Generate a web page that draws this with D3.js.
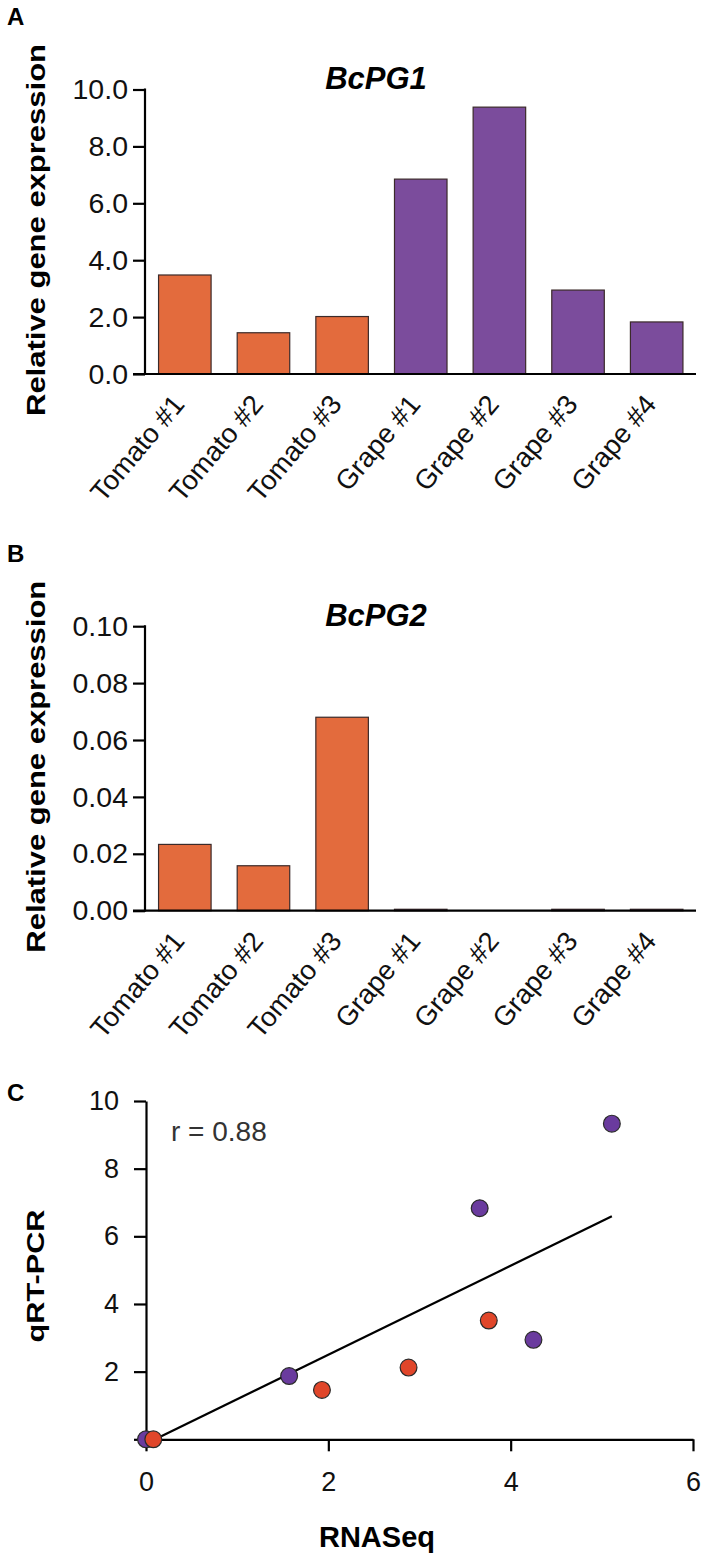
<!DOCTYPE html>
<html>
<head>
<meta charset="utf-8">
<script src="https://cdn.jsdelivr.net/npm/d3@7"></script>
<style>
  body { margin: 0; background: #fff; }
  svg { display: block; font-family: "Liberation Sans", Arial, Helvetica, sans-serif; }
</style>
</head>
<body>
<svg id="drawspace" width="708" height="1558"></svg>
<script>
let drawSpace = d3.select("#drawspace");

// data
let samples = ["Tomato #1", "Tomato #2", "Tomato #3", "Grape #1", "Grape #2", "Grape #3", "Grape #4"];
let host = ["tomato", "tomato", "tomato", "grape", "grape", "grape", "grape"];
let bcpg1 = [3.48, 1.45, 2.02, 6.85, 9.38, 2.95, 1.83];
let bcpg2 = [0.0233, 0.0158, 0.068, 0.0005, 0.0, 0.0005, 0.0005];
let ticksA = [0, 2, 4, 6, 8, 10];
let ticksB = [0, 0.02, 0.04, 0.06, 0.08, 0.10];

// panel C: RNASeq vs qRT-PCR
let rnaSeq = [0.0, 0.08, 1.57, 1.93, 2.88, 3.76, 3.66, 4.25, 5.11];
let qrtPcr = [0.0, 0.0, 1.87, 1.46, 2.12, 3.51, 6.83, 2.94, 9.33];
let pointHost = ["grape", "tomato", "grape", "tomato", "tomato", "tomato", "grape", "grape", "grape"];
let fitX = [0.1, 5.11];
let fitY = [0.0, 6.59];
let ticksCx = [0, 2, 4, 6];
let ticksCy = [0, 2, 4, 6, 8, 10];

let barColor = { tomato: "#e36b3d", grape: "#7b4c9c" };
let dotColor = { tomato: "#e0462a", grape: "#6a3b9e" };

function barPanel(top, title, values, yMax, ticks, fmt, letter) {
  let g = drawSpace.append("g").attr("transform", "translate(0," + top + ")");

  let x = d3.scaleBand().domain(samples).range([145.5, 696])
    .paddingInner(0.332).paddingOuter(0.166);
  let y = d3.scaleLinear().domain([0, yMax]).range([374, 89.5]);

  g.append("text").attr("x", 7).attr("y", 25)
    .attr("font-size", 24).attr("font-weight", "bold").text(letter);

  g.selectAll("rect")
    .data(values)
    .enter()
    .append("rect")
    .attr("x", (d, i) => x(samples[i]))
    .attr("width", x.bandwidth())
    .attr("y", d => y(d))
    .attr("height", d => y(0) - y(d))
    .attr("fill", (d, i) => barColor[host[i]])
    .attr("stroke", "#3b2a2a")
    .attr("stroke-width", d => d > 0 ? 1.2 : 0);

  let yAxis = g.append("g").attr("transform", "translate(145,0)")
    .call(d3.axisLeft(y).tickValues(ticks).tickFormat(d3.format(fmt)).tickSize(12).tickPadding(5));
  yAxis.select(".domain").remove();
  yAxis.selectAll("line").attr("stroke", "#000").attr("stroke-width", 2.2);
  yAxis.selectAll("text").attr("font-size", 28.5).attr("fill", "#111")
    .attr("font-family", "Liberation Sans, Arial, sans-serif");

  // axis lines
  g.append("line").attr("x1", 145).attr("x2", 145).attr("y1", y(yMax) - 1).attr("y2", y(0) + 1)
    .attr("stroke", "#000").attr("stroke-width", 2.2);
  g.append("line").attr("x1", 133).attr("x2", 696).attr("y1", y(0)).attr("y2", y(0))
    .attr("stroke", "#000").attr("stroke-width", 2.2);

  g.append("text").attr("x", 376).attr("y", 89)
    .attr("text-anchor", "middle").attr("font-size", 31)
    .attr("font-weight", "bold").attr("font-style", "italic").text(title);

  g.append("text")
    .attr("transform", "translate(45,230) rotate(-90)")
    .attr("text-anchor", "middle").attr("font-size", 26).attr("font-weight", "bold")
    .attr("textLength", 372).attr("lengthAdjust", "spacingAndGlyphs")
    .text("Relative gene expression");

  g.selectAll(".xlab")
    .data(samples)
    .enter()
    .append("text")
    .attr("class", "xlab")
    .attr("transform", d => "translate(" + (x(d) + x.bandwidth() / 2 + 1) + "," + 405 + ") rotate(-50)")
    .attr("text-anchor", "end").attr("font-size", 27.5).attr("fill", "#111")
    .text(d => d);
}

barPanel(0, "BcPG1", bcpg1, 10, ticksA, ".1f", "A");
barPanel(536.7, "BcPG2", bcpg2, 0.10, ticksB, ".2f", "B");

// panel C
let gc = drawSpace.append("g");
let xC = d3.scaleLinear().domain([0, 6]).range([146, 693]);
let yC = d3.scaleLinear().domain([0, 10]).range([1439.3, 1101]);

gc.append("text").attr("x", 7).attr("y", 1101)
  .attr("font-size", 24).attr("font-weight", "bold").text("C");

let xAxisC = gc.append("g").attr("transform", "translate(0," + yC(0) + ")")
  .call(d3.axisBottom(xC).tickValues(ticksCx).tickFormat(d3.format("d")).tickSize(12).tickPadding(21).tickSizeOuter(0));
xAxisC.select(".domain").attr("stroke-width", 2.2);
xAxisC.selectAll("line").attr("stroke-width", 2.2);
xAxisC.selectAll("text").attr("font-size", 27).attr("fill", "#111");

let yAxisC = gc.append("g").attr("transform", "translate(" + xC(0) + ",0)")
  .call(d3.axisLeft(yC).tickValues(ticksCy).tickFormat(d => d === 0 ? "" : d).tickSize(12).tickPadding(15).tickSizeOuter(0));
yAxisC.select(".domain").attr("stroke-width", 2.2);
yAxisC.selectAll("line").attr("stroke-width", 2.2);
yAxisC.selectAll("text").attr("font-size", 27).attr("fill", "#111");

gc.append("line")
  .attr("x1", xC(fitX[0])).attr("y1", yC(fitY[0]))
  .attr("x2", xC(fitX[1])).attr("y2", yC(fitY[1]))
  .attr("stroke", "#000").attr("stroke-width", 2.2);

gc.selectAll("circle")
  .data(rnaSeq)
  .enter()
  .append("circle")
  .attr("cx", d => xC(d))
  .attr("cy", (d, i) => yC(qrtPcr[i]))
  .attr("r", 8.4)
  .attr("fill", (d, i) => dotColor[pointHost[i]])
  .attr("stroke", "#2a2a2a").attr("stroke-width", 1.2);

gc.append("text").attr("x", 171).attr("y", 1141)
  .attr("font-size", 28).attr("fill", "#333").text("r = 0.88");

gc.append("text")
  .attr("transform", "translate(44,1276) rotate(-90)")
  .attr("text-anchor", "middle").attr("font-size", 24).attr("font-weight", "bold")
  .attr("textLength", 133).attr("lengthAdjust", "spacingAndGlyphs")
  .text("qRT-PCR");

gc.append("text").attr("x", 377).attr("y", 1547)
  .attr("text-anchor", "middle").attr("font-size", 29).attr("font-weight", "bold")
  .text("RNASeq");
</script>
</body>
</html>
